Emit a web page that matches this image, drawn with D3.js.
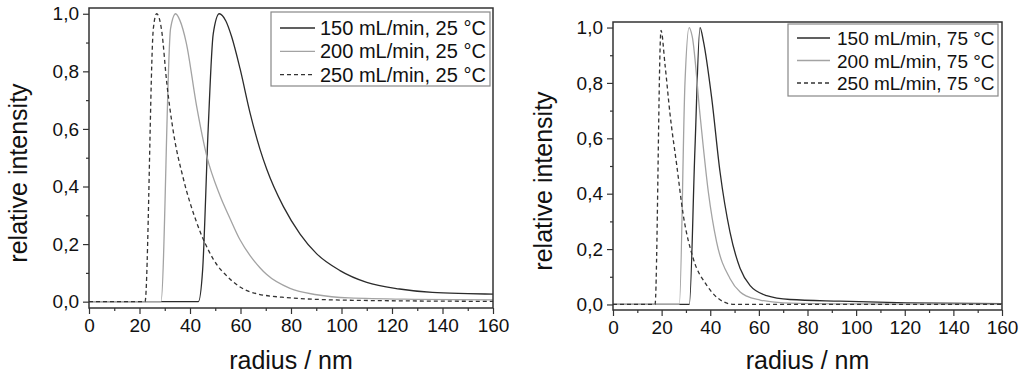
<!DOCTYPE html>
<html>
<head>
<meta charset="utf-8">
<script src="https://cdn.jsdelivr.net/npm/d3@7"></script>
<style>
  body { margin: 0; background: #fff; }
  svg { display: block; font-family: "Liberation Sans", Arial, sans-serif; }
</style>
</head>
<body>
<div id="chart"></div>
<script>
// radius (nm), relative intensity
const flow25_150 = [[0,0],[43.3,0],[45,0.11],[47.2,0.6],[49.2,0.93],[51.6,1.0],[54.2,0.975],[56.5,0.92],[59.8,0.81],[63.8,0.655],[67.7,0.53],[70.4,0.46],[77,0.33],[83.6,0.235],[90.2,0.166],[99.4,0.108],[110,0.067],[123,0.044],[136,0.032],[150,0.028],[160,0.026]];
const flow25_200 = [[0,0],[28.5,0],[32.3,0.948],[34.3,1.0],[36,0.977],[38.5,0.9],[42.6,0.68],[46.6,0.507],[51.9,0.368],[55.8,0.29],[59.8,0.215],[63.8,0.16],[67.7,0.118],[70.4,0.094],[79.6,0.046],[90.2,0.024],[103,0.013],[130,0.008],[160,0.006]];
const flow25_250 = [[0,0],[22.2,0],[25.5,0.95],[26.8,1.0],[28.8,0.94],[30.8,0.76],[33.4,0.59],[37.4,0.426],[42.6,0.276],[49.2,0.148],[55.8,0.079],[63.8,0.034],[77,0.015],[103,0.005],[160,0.001]];

const flow75_150 = [[0,0],[31.4,0],[33.7,0.56],[35.8,1.0],[37.2,0.95],[40.6,0.745],[44,0.48],[48.1,0.262],[52.3,0.13],[56.4,0.068],[63.2,0.032],[72.8,0.018],[93.4,0.012],[120.8,0.006],[160,0.003]];
const flow75_200 = [[0,0],[27.3,0],[29.6,0.8],[31.3,1.0],[32.6,0.967],[35.8,0.684],[39.2,0.407],[42.6,0.226],[48.1,0.094],[52.3,0.045],[55,0.03],[60.5,0.016],[70,0.006],[100,0.002],[160,0.001]];
const flow75_250 = [[0,0],[17.3,0],[19.75,0.99],[21.4,0.865],[23.5,0.684],[26.2,0.504],[28.9,0.323],[33,0.166],[38.5,0.07],[45.4,0.01],[50,0],[160,0]];

const legend25 = ["150 mL/min, 25 °C", "200 mL/min, 25 °C", "250 mL/min, 25 °C"];
const legend75 = ["150 mL/min, 75 °C", "200 mL/min, 75 °C", "250 mL/min, 75 °C"];

const xTicks = [0, 20, 40, 60, 80, 100, 120, 140, 160];
const yTicks = [0, 0.2, 0.4, 0.6, 0.8, 1.0];

const styles = [
  {color: "#2b2b2b", dash: null},
  {color: "#a3a3a3", dash: null},
  {color: "#333", dash: "4,3"}
];

const W = 1024, H = 377;
const svg = d3.select("#chart").append("svg").attr("width", W).attr("height", H);

const panels = [
  {series: [flow25_150, flow25_200, flow25_250], names: legend25,
   left: 89, right: 493, top: 8, bottom: 308, yMin: -0.022,
   yLabel: {x: 27, y: 173}, xLabelY: 369, tickFont: 19,
   legend: {x: 271, y: 12, w: 219, h: 74, row: 23.3, font: 20, lineX: 280, lineW: 35, textX: 320, firstBase: 35}},
  {series: [flow75_150, flow75_200, flow75_250], names: legend75,
   left: 613, right: 1002, top: 22, bottom: 310, yMin: -0.02,
   yLabel: {x: 552, y: 181}, xLabelY: 369, tickFont: 19,
   legend: {x: 788, y: 24, w: 210, h: 72, row: 22.5, font: 19, lineX: 797, lineW: 33, textX: 837, firstBase: 45}}
];

const fmt = v => d3.format(".1f")(v).replace(".", ",");

panels.forEach(p => {
  const x = d3.scaleLinear().domain([0, 160]).range([p.left, p.right]);
  const y = d3.scaleLinear().domain([p.yMin, 1.02]).range([p.bottom, p.top]);
  const g = svg.append("g");

  // minor ticks
  g.append("g").attr("transform", `translate(0,${p.bottom})`)
    .call(d3.axisBottom(x).tickValues(d3.range(10, 160, 20)).tickSize(3).tickFormat(""))
    .call(a => a.select(".domain").remove());
  g.append("g").attr("transform", `translate(${p.left},0)`)
    .call(d3.axisLeft(y).tickValues([0.1, 0.3, 0.5, 0.7, 0.9]).tickSize(3).tickFormat(""))
    .call(a => a.select(".domain").remove());

  const xa = g.append("g").attr("transform", `translate(0,${p.bottom})`)
    .call(d3.axisBottom(x).tickValues(xTicks).tickSize(6).tickPadding(5));
  xa.select(".domain").remove();
  xa.selectAll("text").attr("font-size", p.tickFont).attr("fill", "#111").attr("font-family", "Liberation Sans, Arial");

  const ya = g.append("g").attr("transform", `translate(${p.left},0)`)
    .call(d3.axisLeft(y).tickValues(yTicks).tickFormat(fmt).tickSize(6).tickPadding(4));
  ya.select(".domain").remove();
  ya.selectAll("text").attr("font-size", p.tickFont).attr("fill", "#111").attr("font-family", "Liberation Sans, Arial");

  g.selectAll(".tick line").attr("stroke", "#333").attr("stroke-width", 1.2);

  // curves
  const line = d3.line().x(d => x(d[0])).y(d => y(d[1])).curve(d3.curveMonotoneX);
  p.series.forEach((s, i) => {
    g.append("path").datum(s)
      .attr("d", line)
      .attr("fill", "none")
      .attr("stroke", styles[i].color)
      .attr("stroke-width", 1.3)
      .attr("stroke-dasharray", styles[i].dash);
  });

  // frame
  g.append("rect")
    .attr("x", p.left).attr("y", p.top)
    .attr("width", p.right - p.left).attr("height", p.bottom - p.top)
    .attr("fill", "none").attr("stroke", "#333").attr("stroke-width", 1.5);

  // legend
  const L = p.legend;
  g.append("rect").attr("x", L.x).attr("y", L.y).attr("width", L.w).attr("height", L.h)
    .attr("fill", "#fff").attr("stroke", "#888").attr("stroke-width", 1.2);
  p.names.forEach((n, i) => {
    const base = L.firstBase + i * L.row;
    g.append("line")
      .attr("x1", L.lineX).attr("x2", L.lineX + L.lineW)
      .attr("y1", base - 7).attr("y2", base - 7)
      .attr("stroke", styles[i].color).attr("stroke-width", 1.3)
      .attr("stroke-dasharray", styles[i].dash);
    g.append("text").attr("x", L.textX).attr("y", base)
      .attr("font-size", L.font).attr("fill", "#111").text(n);
  });

  // axis titles
  g.append("text")
    .attr("x", (p.left + p.right) / 2).attr("y", p.xLabelY)
    .attr("text-anchor", "middle").attr("font-size", 25).attr("fill", "#111")
    .text("radius / nm");
  g.append("text")
    .attr("transform", `translate(${p.yLabel.x},${p.yLabel.y}) rotate(-90)`)
    .attr("text-anchor", "middle").attr("font-size", 25).attr("fill", "#111")
    .text("relative intensity");
});
</script>
</body>
</html>
